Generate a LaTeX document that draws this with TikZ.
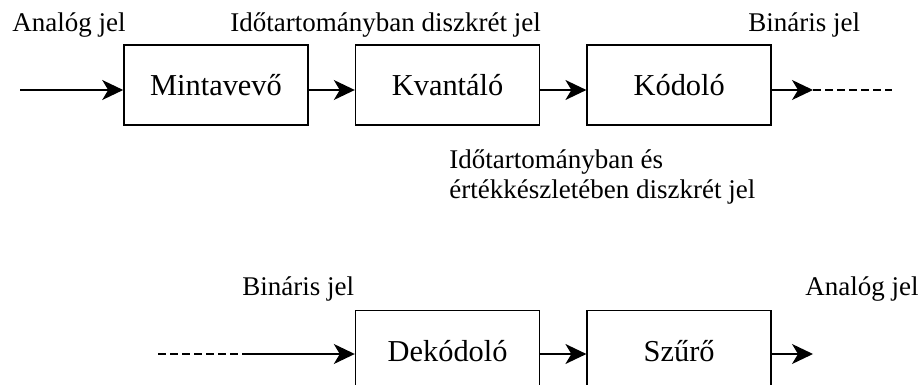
\documentclass[tikz,border=0pt]{standalone}
\usepackage{fontspec}
\setmainfont{Liberation Serif}
\usetikzlibrary{arrows.meta,positioning}

\tikzset{
  blokk/.style={draw,line width=0.8pt,minimum width=92pt,minimum height=40pt,
    inner sep=0pt,font=\fontsize{15.2}{17}\selectfont},
  cimke/.style={anchor=base west,inner sep=0pt,font=\fontsize{13.5}{15}\selectfont},
  jel/.style={line width=0.7pt,-{Stealth[length=10.5pt,width=10pt,inset=3pt]}},
  szaggatott/.style={line width=0.7pt,dash pattern=on 4pt off 2pt}
}

\begin{document}
\begin{tikzpicture}[x=0.5pt,y=-0.5pt,node distance=23pt]
  \path[use as bounding box,clip] (0,0) rectangle (920,385);
  % Coder chain: Mintaveve -> Kvantalo -> Kodolo
  \node[blokk] (mv) at (216,85) {Mintavevő};
  \node[blokk,right=of mv] (kv) {Kvantáló};
  \node[blokk,right=of kv] (ko) {Kódoló};
  \coordinate (be) at (20,90);
  \coordinate (ki) at (813,90);
  \coordinate (kivege) at (892,90);
  \draw[jel] (be) -- (be -| mv.west);
  \draw[jel] (be -| mv.east) -- (be -| kv.west);
  \draw[jel] (be -| kv.east) -- (be -| ko.west);
  \draw[jel] (be -| ko.east) -- (ki);
  \draw[szaggatott] (ki) -- (kivege);
  \node[cimke] (analog1) at (12,32) {Analóg jel};
  \node[cimke] (diszkr1) at (230,32) {Időtartományban diszkrét jel};
  \node[cimke] (binar1) at (748,32) {Bináris jel};
  \node[cimke,align=left] (diszkr2) at (449,198)
    {Időtartományban és\\értékkészletében diszkrét jel};
  % Decoder chain: Dekodolo -> Szuro
  \node[blokk,below=92pt of kv] (dk) {Dekódoló};
  \node[blokk,right=of dk] (sz) {Szűrő};
  \coordinate (be2) at (158,354);
  \coordinate (be2t) at (248,354);
  \coordinate (ki2) at (813,354);
  \draw[szaggatott] (be2) -- (be2t);
  \draw[jel] (be2t) -- (be2t -| dk.west);
  \draw[jel] (be2t -| dk.east) -- (be2t -| sz.west);
  \draw[jel] (be2t -| sz.east) -- (ki2);
  \node[cimke] (binar2) at (242,295) {Bináris jel};
  \node[cimke] (analog2) at (805,295) {Analóg jel};
\end{tikzpicture}
\end{document}
